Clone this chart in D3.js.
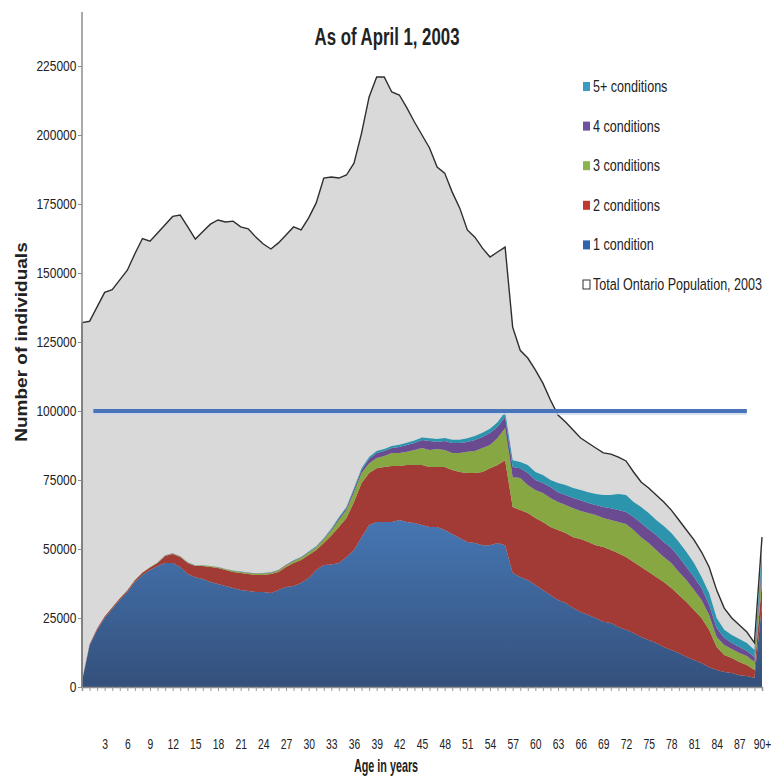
<!DOCTYPE html>
<html>
<head>
<meta charset="utf-8">
<script src="https://cdn.jsdelivr.net/npm/d3@7"></script>
<style>
  body { margin: 0; background: #fff; }
  text { font-family: "Liberation Sans", Arial, sans-serif; fill: #222; }
</style>
</head>
<body>
<svg id="chart"></svg>
<script>
// ages 0..90 (90 = "90+")
const ages = [0,1,2,3,4,5,6,7,8,9,10,11,12,13,14,15,16,17,18,19,20,21,22,23,24,25,26,27,28,29,
  30,31,32,33,34,35,36,37,38,39,40,41,42,43,44,45,46,47,48,49,50,51,52,53,54,55,56,57,58,59,
  60,61,62,63,64,65,66,67,68,69,70,71,72,73,74,75,76,77,78,79,80,81,82,83,84,85,86,87,88,89,90];
const tickLabels = ["3","6","9","12","15","18","21","24","27","30","33","36","39","42","45","48",
  "51","54","57","60","63","66","69","72","75","78","81","84","87","90+"];
const yTicks = [0,25000,50000,75000,100000,125000,150000,175000,200000,225000];

const totalPop = [132000,132500,137700,143000,144000,147500,151000,157000,162500,161500,
  164500,167500,170500,171000,166700,162300,165000,167700,169200,168500,
  168800,166700,166000,163000,160500,158700,160900,163800,166700,165600,
  170000,175400,184400,184800,184400,185500,189800,200700,213800,221000,
  221000,215600,214500,209800,204700,200000,195300,188400,186200,179300,
  173500,165600,163000,159000,155800,157600,159400,130400,122000,119200,
  114900,110100,104000,98500,96000,93100,90200,88400,86600,84800,
  84400,83300,81900,77900,74300,72100,69600,67000,64100,60500,
  56900,53300,48900,43500,35100,28600,25000,22500,19900,16000,54300];

const cond1 = [2000,15000,20600,25000,28300,31500,34400,38000,40600,42400,
  43800,44900,44900,43500,40900,39800,39100,38000,37300,36600,
  35900,35100,34800,34400,34400,34100,35100,36200,36600,37700,
  39500,42400,44200,44400,44900,47100,49600,54300,58700,59800,
  59800,59800,60500,59800,59400,58700,58000,58000,56900,55400,
  54000,52500,52200,51400,51400,52200,51400,41300,39900,38800,
  37000,35100,33300,31500,30400,28600,27200,26100,25000,23600,
  23200,21700,20700,19600,18100,17000,15900,14500,13400,12300,
  10900,9800,8700,7200,6200,5400,5100,4300,4000,3300,30000];

const cond2 = [200,400,500,500,500,600,600,700,800,900,
  1100,2600,3300,3600,4000,4000,4700,5500,5800,5800,
  5800,6200,6100,6200,6200,6800,6600,7300,8300,8300,
  8300,7200,8000,10500,13100,14100,17400,19600,18800,19500,
  19900,20300,19600,20600,21000,21700,21700,21700,22800,23200,
  23900,25000,25300,26500,27900,28200,30800,23900,24200,24200,
  24200,24700,24700,25400,25400,25700,26400,26400,26400,27100,
  26400,26800,26400,25700,25400,24700,24000,23500,22500,21000,
  19900,18100,16300,13500,8300,6200,5400,4800,4000,2900,8000];

const cond3 = [50,50,50,50,50,50,50,50,50,50,
  100,150,200,200,200,200,200,300,300,300,
  400,400,400,500,500,500,500,600,700,800,
  900,1000,1200,1800,2500,2900,3600,3600,3600,3700,
  4000,4700,4700,4800,5500,6200,6200,6500,6200,6200,
  6900,7700,8000,8700,8400,9800,11600,10900,11600,10200,
  10200,10500,10500,10100,10100,10500,10200,10500,10900,10500,
  10900,11300,12000,11600,10800,10500,9700,9100,9000,8400,
  8000,7200,6500,5400,3600,3600,3300,3200,3200,2900,5000];

const cond4 = [20,20,20,20,20,20,20,20,20,20,
  50,50,50,50,50,50,50,50,50,50,
  50,100,100,100,120,120,150,150,180,200,
  200,250,300,400,600,700,1000,1100,1500,1800,
  1800,1800,2200,2500,2500,2900,3200,2600,3200,3600,
  3600,3600,4000,4000,4300,4000,4000,3600,3600,4300,
  3600,3600,4000,3600,3700,3700,3900,3700,3600,4000,
  4300,4300,4300,4700,5100,5000,5500,5400,5500,5400,
  4700,4800,4400,3600,3300,2600,2100,2200,1800,1800,3000];

const cond5 = [10,10,10,10,10,10,10,10,10,10,
  20,20,20,20,20,20,20,20,30,30,
  30,50,50,50,60,60,80,80,100,120,
  150,180,200,300,400,400,500,700,700,700,
  700,700,800,800,900,900,1000,1100,1100,1200,
  1200,1300,1400,1500,1600,1700,1800,2500,2200,2900,
  2900,2900,2500,3300,3600,3600,3700,3900,4000,4400,
  4800,5800,6200,5400,5800,5800,5400,5800,5400,5400,
  5400,5000,4000,4400,3600,2900,2900,2900,2900,2500,3000];

const seriesKeys = ["c1", "c2", "c3", "c4", "c5"];
const seriesColors = { c1: "url(#blueGrad)", c2: "#a23a35", c3: "#86a742", c4: "#6a4b92", c5: "#2c95ad" };
const legendItems = [
  { label: "5+ conditions", color: "#3a9cc2" },
  { label: "4 conditions", color: "#7050a0" },
  { label: "3 conditions", color: "#8ab54b" },
  { label: "2 conditions", color: "#c2382f" },
  { label: "1 condition", color: "#2f63ad" },
  { label: "Total Ontario Population, 2003", color: "#fff" }
];
const refLine = { value: 100000, from: 1.5, to: 88 };

const W = 771, H = 778;
const svg = d3.select("#chart").attr("width", W).attr("height", H);

const x = d3.scaleLinear().domain([0, 90]).range([82, 762]);
const y = d3.scaleLinear().domain([0, 225000]).range([687, 66]);

const defs = svg.append("defs");
const grad = defs.append("linearGradient").attr("id", "blueGrad")
  .attr("gradientUnits", "userSpaceOnUse")
  .attr("x1", 0).attr("x2", 0).attr("y1", y(62000)).attr("y2", y(0));
grad.append("stop").attr("offset", 0).attr("stop-color", "#4677b4");
grad.append("stop").attr("offset", 1).attr("stop-color", "#34507c");

// table for the stack
const rows = ages.map((a, i) => ({
  age: a, total: totalPop[i],
  c1: cond1[i], c2: cond2[i], c3: cond3[i], c4: cond4[i], c5: cond5[i]
}));

// total population area (behind)
const totalArea = d3.area().x(d => x(d.age)).y0(y(0)).y1(d => y(d.total));
svg.append("path").datum(rows)
  .attr("d", totalArea)
  .attr("fill", "#d9d9d9");
svg.append("path").datum(rows)
  .attr("d", d3.line().x(d => x(d.age)).y(d => y(d.total)))
  .attr("fill", "none").attr("stroke", "#2e2e2e").attr("stroke-width", 1.4);
svg.append("line")
  .attr("x1", x(0)).attr("x2", x(0)).attr("y1", y(0)).attr("y2", y(totalPop[0]))
  .attr("stroke", "#2e2e2e").attr("stroke-width", 1.4);

// stacked condition areas
const stacked = d3.stack().keys(seriesKeys)(rows);
const stackArea = d3.area().x(d => x(d.data.age)).y0(d => y(d[0])).y1(d => y(d[1]));
svg.append("g").selectAll("path").data(stacked).join("path")
  .attr("d", stackArea)
  .attr("fill", d => seriesColors[d.key]);

// 100000 reference line
svg.append("line")
  .attr("x1", x(refLine.from)).attr("x2", x(refLine.to))
  .attr("y1", y(refLine.value) + 3).attr("y2", y(refLine.value) + 3)
  .attr("stroke", "#c8d6ea").attr("stroke-width", 1.5);
svg.append("line")
  .attr("x1", x(refLine.from)).attr("x2", x(refLine.to))
  .attr("y1", y(refLine.value)).attr("y2", y(refLine.value))
  .attr("stroke", "#4a74b9").attr("stroke-width", 4);

// y axis
svg.append("line")
  .attr("x1", x(0)).attr("x2", x(0)).attr("y1", y(0)).attr("y2", 12)
  .attr("stroke", "#8c8c8c").attr("stroke-width", 1.5);
const yAxis = svg.append("g")
  .attr("transform", `translate(${x(0)},0)`)
  .call(d3.axisLeft(y).tickValues(yTicks).tickSize(4).tickPadding(4).tickFormat(d3.format("d")));
yAxis.select(".domain").remove();
yAxis.selectAll("line").attr("stroke", "#8c8c8c");
yAxis.selectAll("text").style("font-size", "15px").attr("fill", "#222")
  .attr("x", -7).attr("transform", "scale(0.8,1)");

// x axis
const xAxis = svg.append("g")
  .attr("transform", `translate(0,${y(0)})`)
  .call(d3.axisBottom(x).tickValues(ages).tickSize(4).tickPadding(48)
    .tickFormat(d => (d % 3 === 0 && d > 0) ? tickLabels[d / 3 - 1] : ""));
xAxis.select(".domain").attr("stroke", "#8c8c8c").attr("stroke-width", 1.5);
xAxis.selectAll("line").attr("stroke", "#9a9a9a");
xAxis.selectAll("text").style("font-size", "14px").attr("fill", "#222")
  .attr("transform", "scale(0.74,1)");

// title and axis titles
svg.append("text").attr("transform", "translate(387,45) scale(0.7,1)").attr("text-anchor", "middle")
  .style("font-size", "24px").style("font-weight", "bold").text("As of April 1, 2003");
svg.append("text").attr("transform", "translate(27,342) rotate(-90) scale(1,0.85)").attr("text-anchor", "middle")
  .style("font-size", "19px").style("font-weight", "bold").text("Number of individuals");
svg.append("text").attr("transform", "translate(386,772) scale(0.6,1)").attr("text-anchor", "middle")
  .style("font-size", "18px").style("font-weight", "bold").text("Age in years");

// legend
const legend = svg.append("g").attr("transform", "translate(583,82)");
const li = legend.selectAll("g").data(legendItems).join("g")
  .attr("transform", (d, i) => `translate(0,${i * 39.6})`);
li.append("rect").attr("width", 7).attr("height", 9)
  .attr("fill", d => d.color)
  .attr("stroke", (d, i) => i === legendItems.length - 1 ? "#333" : "none");
li.append("text").attr("transform", "translate(10,10) scale(0.74,1)")
  .style("font-size", "17px").text(d => d.label);
</script>
</body>
</html>
